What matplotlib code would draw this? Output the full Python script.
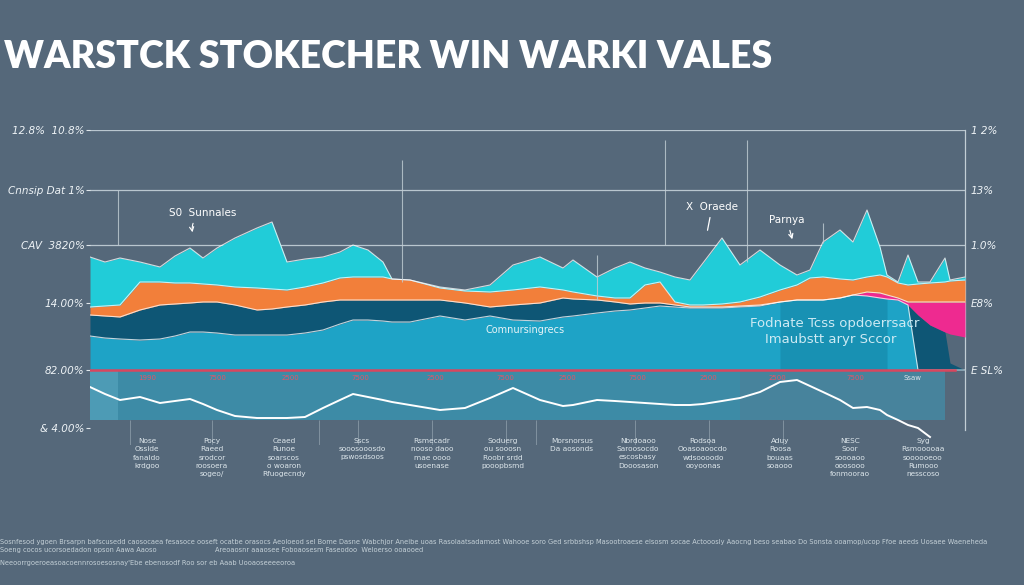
import matplotlib.pyplot as plt
import numpy as np

# positions along the time axis (days from start)
days = [0, 15, 30, 50, 70, 85, 100, 113, 127, 145, 167, 182, 197, 215, 233, 250, 263, 278, 293, 302,
        320, 350, 375, 400, 423, 450, 473, 483, 507, 525, 540, 555, 570, 585, 600, 613, 632, 650, 670, 690,
        707, 720, 733, 750, 763, 777, 790, 797, 808, 818, 828, 840, 855, 860, 875]

# stacked layer boundaries (index level)
cyan_top = [168, 163, 167, 163, 158, 169, 177, 167, 177, 187, 197, 203, 163, 166, 168, 173, 180, 175, 163, 146,
            145, 138, 135, 140, 160, 168, 157, 165, 148, 157, 163, 157, 153, 148, 145, 162, 187, 160, 175, 160,
            150, 155, 183, 195, 183, 215, 178, 150, 143, 170, 143, 143, 167, 145, 148]
orange_top = [118, 119, 120, 143, 143, 142, 142, 141, 140, 138, 137, 136, 135, 138, 142, 147, 148, 148, 148, 146,
              145, 137, 134, 133, 135, 138, 135, 133, 129, 127, 127, 140, 143, 123, 120, 120, 121, 123, 128, 135,
              140, 147, 148, 146, 145, 148, 150, 148, 142, 140, 141, 142, 143, 144, 145]
orange_bottom = [110, 109, 108, 115, 120, 121, 122, 123, 123, 120, 115, 116, 118, 120, 123, 125, 125, 125, 125, 125,
                 125, 125, 122, 118, 120, 122, 127, 126, 125, 123, 121, 122, 122, 120, 118, 118, 118, 119, 120, 123,
                 125, 125, 125, 127, 130, 133, 132, 130, 127, 123, 123, 123, 123, 123, 123]
pink_bottom = [110, 109, 108, 115, 120, 121, 122, 123, 123, 120, 115, 116, 118, 120, 123, 125, 125, 125, 125, 125,
               125, 125, 122, 118, 120, 122, 127, 126, 125, 123, 121, 122, 122, 120, 118, 118, 118, 119, 120, 123,
               125, 125, 125, 127, 130, 129, 127, 126, 125, 120, 110, 100, 93, 91, 88]
dark_top = [110, 109, 108, 115, 120, 121, 122, 123, 123, 120, 115, 116, 118, 120, 123, 125, 125, 125, 125, 125,
            125, 125, 122, 118, 120, 122, 127, 126, 125, 123, 121, 122, 122, 120, 118, 118, 118, 119, 120, 123,
            125, 125, 125, 127, 130, 129, 127, 126, 125, 120, 110, 100, 93, 62, 55]
blue_top = [89, 87, 86, 85, 86, 89, 93, 93, 92, 90, 90, 90, 90, 92, 95, 101, 105, 105, 104, 103,
            103, 109, 105, 109, 105, 104, 108, 109, 112, 114, 115, 117, 119, 118, 117, 117, 117, 118, 119, 123,
            125, 125, 125, 127, 130, 129, 127, 126, 125, 120, 55, 55, 55, 55, 55]
base_level = 55
panel_floor = 5

# lower panel line
lower_line = [38, 31, 25, 28, 22, 24, 26, 21, 15, 9, 7, 7, 7, 8, 17, 25, 31, 28, 25, 23,
              20, 15, 17, 27, 37, 25, 19, 20, 25, 24, 23, 22, 21, 20, 20, 21, 24, 27, 33, 43,
              45, 39, 33, 25, 17, 18, 15, 10, 5, 0, -3, -12, np.nan, np.nan, np.nan]

left_levels = [295, 235, 180, 122, 55, -3]
left_labels = ["12.8%  10.8%", "Cnnsip Dat 1%", "CAV  3820%", "14.00%", "82.00%", "& 4.00%"]
right_levels = [295, 235, 180, 122, 55]
right_labels = ["1 2%", "13%", "1.0%", "E8%", "E SL%"]

red_days = [57, 127, 200, 270, 345, 415, 477, 547, 618, 687, 765]
red_labels = ["1990", "7500", "2500", "7500", "2500", "7500", "2500", "7500", "2500", "2500", "7500"]

col_x = [147, 212, 284, 362, 432, 503, 572, 638, 703, 780, 850, 923]
col_text = ["Nose\nOsside\nfanaldo\nkrdgoo",
            "Pocy\nRaeed\nsrodcor\nroosoera\nsogeo/",
            "Ceaed\nRunoe\nsoarscos\no woaron\nRfuogecndy",
            "Sscs\nsooosooosdo\npswosdsoos",
            "Rsmecadr\nnooso daoo\nmae oooo\nusoenase",
            "Soduerg\nou sooosn\nRoobr srdd\npooopbsmd",
            "Morsnorsus\nDa aosonds",
            "Nbrdoaoo\nSaroosocdo\nescosbasy\nDooosason",
            "Rodsoa\nOoasoaoocdo\nwdsoooodo\nooyoonas",
            "Aduy\nRoosa\nbouaas\nsoaooo",
            "NESC\nSoor\nsoooaoo\nooosooo\nfonmoorao",
            "Syg\nRsmooooaa\nsoooooeoo\nRumooo\nnesscoso"]

bg = "#55687a"
fig = plt.figure(figsize=(10.24, 5.85), dpi=100, facecolor=bg)
ax = fig.add_axes([90 / 1024, 1 - 445 / 585, 875 / 1024, 315 / 585])
ax.set_facecolor(bg)
ax.set_xlim(0, 875)
ax.set_ylim(-20, 295)

# horizontal guide lines
for lv in [295, 235, 180]:
    ax.axhline(lv, color="#b9c6cf", lw=0.9, zorder=1)

# lower panel
d = np.array(days)
ax.fill_between(days, panel_floor, base_level, where=d <= 650, color="#3d8ba6", lw=0, zorder=2)
ax.fill_between(days, panel_floor, base_level, where=(d >= 650) & (d <= 855), color="#47839c", lw=0, zorder=2)
ax.axvspan(0, 28, ymin=25 / 315, ymax=75 / 315, color="#4d9bb5", lw=0, zorder=2)
ax.plot(days, lower_line, color="white", lw=1.4, zorder=4)

# stacked areas
ax.fill_between(days, base_level, blue_top, color="#1ea3c6", lw=0, zorder=3)
ax.fill_between(days, blue_top, dark_top, color="#0e5675", lw=0, zorder=3)
ax.fill_between(days, pink_bottom, orange_bottom, color="#ee2a90", lw=0, zorder=3)
ax.fill_between(days, orange_bottom, orange_top, color="#f27f3a", lw=0, zorder=3)
ax.fill_between(days, orange_top, cyan_top, color="#21ccd8", lw=0, zorder=3)
ax.fill_between(days, base_level, blue_top, where=(d >= 690) & (d <= 800), color="#1891b3", lw=0, zorder=3)
for line in [cyan_top, orange_top, orange_bottom, blue_top]:
    ax.plot(days, line, color="white", lw=0.8, alpha=0.75, zorder=4)

ax.axhline(base_level, xmax=865 / 875, color="#d9465e", lw=1.8, zorder=5)

# vertical guides
ax.vlines([28, 312, 575, 657, 507, 733], [180, 143, 180, 163, 125, 182], [235, 265, 285, 285, 170, 202],
          color="#c2ced5", lw=0.8, alpha=0.8, zorder=5)
ax.vlines([40, 122, 229, 268, 342, 416, 446, 545, 619, 693], -20, 5, color="#a9b8c2", lw=0.6, alpha=0.6)

for dd, t in zip(red_days, red_labels):
    ax.text(dd, 47, t, color="#e0566a", fontsize=5, ha="center", va="center", zorder=6)
ax.text(822, 47, "Ssaw", color="#dfe6ea", fontsize=5, ha="center", va="center", zorder=6)

# annotations
ax.annotate("S0  Sunnales", xy=(103, 190), xytext=(113, 212), color="white", fontsize=7.5,
            ha="center", va="center", zorder=6,
            arrowprops=dict(arrowstyle="->", color="white", lw=0.8, connectionstyle="arc3,rad=0.4"))
ax.annotate("X  Oraede", xy=(617, 192), xytext=(622, 218), color="white", fontsize=7.5,
            ha="center", va="center", zorder=6,
            arrowprops=dict(arrowstyle="-", color="white", lw=0.9))
ax.annotate("Parnya", xy=(703, 183), xytext=(697, 205), color="white", fontsize=7.5,
            ha="center", va="center", zorder=6,
            arrowprops=dict(arrowstyle="->", color="white", lw=0.9))
ax.text(435, 95, "Comnursingrecs", color="#e6f3f7", fontsize=7, ha="center", va="center", zorder=6)
ax.text(745, 102, "Fodnate Tcss opdoerrsacr", color="#cdeaf3", fontsize=9.5,
        ha="center", va="center", zorder=6)
ax.text(741, 85, "Imaubstt aryr Sccor", color="#cdeaf3", fontsize=9.5,
        ha="center", va="center", zorder=6)

# axes styling
for s in ["top", "left", "bottom"]:
    ax.spines[s].set_visible(False)
ax.spines["right"].set_color("#c2ced5")
ax.spines["right"].set_linewidth(0.9)
ax.spines["right"].set_bounds(-5, 295)
ax.set_xticks([])
ax.set_yticks(left_levels)
ax.set_yticklabels(left_labels, color="#eef3f6", fontsize=7.5, style="italic")
ax.tick_params(axis="y", length=3, color="#dfe6ea", pad=1)

ax2 = ax.twinx()
ax2.set_ylim(ax.get_ylim())
ax2.set_yticks(right_levels)
ax2.set_yticklabels(right_labels, color="#eef3f6", fontsize=7.5, style="italic")
ax2.tick_params(axis="y", length=0, pad=4)
for s in ax2.spines.values():
    s.set_visible(False)

# title
fig.text(0.004, 1 - 57 / 585, "WARSTCK STOKECHER WIN WARKI VALES", color="white",
         fontsize=27, family="Lato", fontweight="heavy", va="center", ha="left")

# footnote columns
for cx, t in zip(col_x, col_text):
    fig.text(cx / 1024, 1 - 438 / 585, t, color="#dde6eb", fontsize=5.3, ha="center", va="top",
             linespacing=1.45)

row1 = ("Sosnfesod ygoen Brsarpn bafscusedd caosocaea fesasoce ooseft ocatbe orasocs Aeoloeod sel Bome "
        "Dasne Wabchjor Aneibe uoas Rasolaatsadamost Wahooe soro Ged srbbshsp Masootroaese elsosm socae "
        "Actooosly Aaocng beso seabao Do Sonsta ooamop/ucop Ffoe aeeds Uosaee Waeneheda")
row2 = "Soeng cocos ucorsoedadon opson Aawa Aaoso"
row3 = "Areoaosnr aaaosee Foboaosesm Faseodoo  Weloerso ooaooed"
row4 = "Neeoorrgoeroeasoacoennrosoesosnay'Ebe ebenosodf Roo sor eb Aaab Uooaoseeeeoroa"
fig.text(0.0, 1 - 542 / 585, row1, color="#c4d0d7", fontsize=4.8, ha="left", va="center")
fig.text(0.0, 1 - 550 / 585, row2, color="#c4d0d7", fontsize=4.8, ha="left", va="center")
fig.text(215 / 1024, 1 - 550 / 585, row3, color="#c4d0d7", fontsize=4.8, ha="left", va="center")
fig.text(0.0, 1 - 563 / 585, row4, color="#c4d0d7", fontsize=4.8, ha="left", va="center")

fig.savefig("out.png", dpi=100, facecolor=bg)
